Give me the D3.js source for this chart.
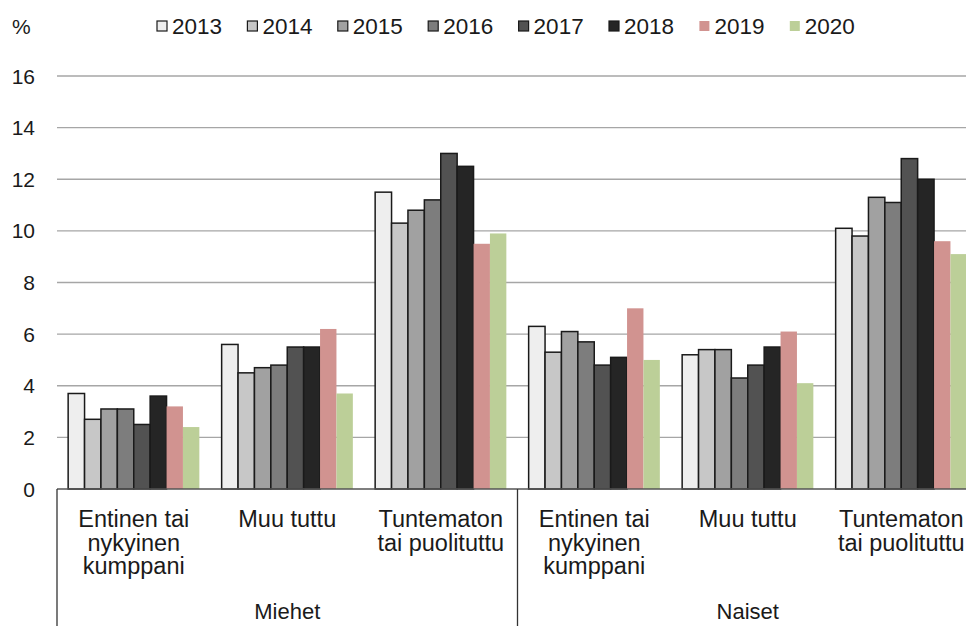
<!DOCTYPE html>
<html>
<head>
<meta charset="utf-8">
<script src="https://cdn.jsdelivr.net/npm/d3@7"></script>
<style>
  body { margin: 0; background: #fff; }
  svg { display: block; font-family: "Liberation Sans", Arial, sans-serif; }
  .tick-label, .cat-label, .group-label, .legend-label { fill: #1a1a1a; }
</style>
</head>
<body>
<svg id="chart" width="966" height="626"></svg>
<script>
// ---- Data ----
const years = ['2013', '2014', '2015', '2016', '2017', '2018', '2019', '2020'];
const groups = ['Miehet', 'Naiset'];
const relations = ['Entinen tai nykyinen kumppani', 'Muu tuttu', 'Tuntematon tai puolituttu'];
const relationLines = [['Entinen tai', 'nykyinen', 'kumppani'], ['Muu tuttu'], ['Tuntematon', 'tai puolituttu']];
const yTicks = [0, 2, 4, 6, 8, 10, 12, 14, 16];

// order: Miehet (3 relations), Naiset (3 relations)
const v2013 = [3.7, 5.6, 11.5, 6.3, 5.2, 10.1];
const v2014 = [2.7, 4.5, 10.3, 5.3, 5.4, 9.8];
const v2015 = [3.1, 4.7, 10.8, 6.1, 5.4, 11.3];
const v2016 = [3.1, 4.8, 11.2, 5.7, 4.3, 11.1];
const v2017 = [2.5, 5.5, 13.0, 4.8, 4.8, 12.8];
const v2018 = [3.6, 5.5, 12.5, 5.1, 5.5, 12.0];
const v2019 = [3.2, 6.2, 9.5, 7.0, 6.1, 9.6];
const v2020 = [2.4, 3.7, 9.9, 5.0, 4.1, 9.1];
const seriesValues = [v2013, v2014, v2015, v2016, v2017, v2018, v2019, v2020];

const colors = ['#eeeeee', '#c7c7c7', '#a1a1a1', '#7d7d7d', '#525252', '#252525', '#d19390', '#bccf98'];
const outlined = [true, true, true, true, true, true, false, false];

// ---- Layout ----
const svg = d3.select('#chart');
const left = 57, zeroY = 489, topY = 76, groupStep = 153.5;

const categories = [];
groups.forEach(g => relations.forEach((r, i) => categories.push({ key: g + '|' + r, group: g, lines: relationLines[i] })));

const x0 = d3.scaleBand()
    .domain(categories.map(d => d.key))
    .range([left, left + groupStep * categories.length])
    .padding(0);

const x1 = d3.scaleBand()
    .domain(years)
    .range([0, x0.bandwidth()])
    .paddingInner(0)
    .paddingOuter(0.68);

const y = d3.scaleLinear().domain([0, 16]).range([zeroY, topY]);

// Gridlines
svg.append('g')
    .selectAll('line')
    .data(yTicks.filter(t => t > 0))
    .join('line')
    .attr('x1', left).attr('x2', 966)
    .attr('y1', d => y(d)).attr('y2', d => y(d))
    .attr('stroke', '#a6a6a6')
    .attr('stroke-width', 1.3);

// Y tick labels
svg.append('g')
    .selectAll('text')
    .data(yTicks)
    .join('text')
    .attr('class', 'tick-label')
    .attr('x', 35)
    .attr('y', d => y(d))
    .attr('dy', '0.36em')
    .attr('text-anchor', 'end')
    .style('font-size', '21px')
    .text(d => d);

// Bars
const bars = [];
years.forEach((yr, si) => {
    categories.forEach((c, ci) => {
        bars.push({ year: yr, si, key: c.key, value: seriesValues[si][ci] });
    });
});

svg.append('g')
    .selectAll('rect')
    .data(bars)
    .join('rect')
    .attr('x', d => x0(d.key) + x1(d.year))
    .attr('y', d => y(d.value))
    .attr('width', x1.bandwidth())
    .attr('height', d => y(0) - y(d.value))
    .attr('fill', d => colors[d.si])
    .attr('stroke', d => outlined[d.si] ? '#1a1a1a' : 'none')
    .attr('stroke-width', 1.5);

// Zero axis line
svg.append('line')
    .attr('x1', left).attr('x2', 966)
    .attr('y1', y(0)).attr('y2', y(0))
    .attr('stroke', '#555')
    .attr('stroke-width', 1.5);

// Vertical separators (left axis and between groups)
const sepX = [left, x0(categories[3].key)];
svg.append('g')
    .selectAll('line')
    .data(sepX)
    .join('line')
    .attr('x1', d => d).attr('x2', d => d)
    .attr('y1', y(0)).attr('y2', 626)
    .attr('stroke', '#333')
    .attr('stroke-width', 1.3);

// Category labels
const catG = svg.append('g')
    .selectAll('text')
    .data(categories)
    .join('text')
    .attr('class', 'cat-label')
    .attr('text-anchor', 'middle')
    .style('font-size', '23.5px')
    .attr('x', d => x0(d.key) + x0.bandwidth() / 2)
    .attr('y', 527);

catG.selectAll('tspan')
    .data(d => d.lines.map(l => ({ l, x: x0(d.key) + x0.bandwidth() / 2 })))
    .join('tspan')
    .attr('x', d => d.x)
    .attr('dy', (d, i) => i === 0 ? 0 : 23.5)
    .text(d => d.l);

// Group labels
svg.append('g')
    .selectAll('text')
    .data(groups)
    .join('text')
    .attr('class', 'group-label')
    .attr('text-anchor', 'middle')
    .style('font-size', '22px')
    .attr('x', g => {
        const keys = categories.filter(c => c.group === g).map(c => c.key);
        return x0(keys[1]) + x0.bandwidth() / 2;
    })
    .attr('y', 619)
    .text(g => g);

// Unit label
svg.append('text')
    .attr('class', 'tick-label')
    .attr('x', 12).attr('y', 34)
    .style('font-size', '21px')
    .text('%');

// Legend
const legend = svg.append('g')
    .selectAll('g')
    .data(years)
    .join('g')
    .attr('transform', (d, i) => `translate(${157 + i * 90.4},21)`);

legend.append('rect')
    .attr('width', 10).attr('height', 10)
    .attr('fill', (d, i) => colors[i])
    .attr('stroke', (d, i) => outlined[i] ? '#1a1a1a' : 'none')
    .attr('stroke-width', 1.2);

legend.append('text')
    .attr('class', 'legend-label')
    .attr('x', 15).attr('y', 5)
    .attr('dy', '0.36em')
    .style('font-size', '22.5px')
    .text(d => d);
</script>
</body>
</html>
